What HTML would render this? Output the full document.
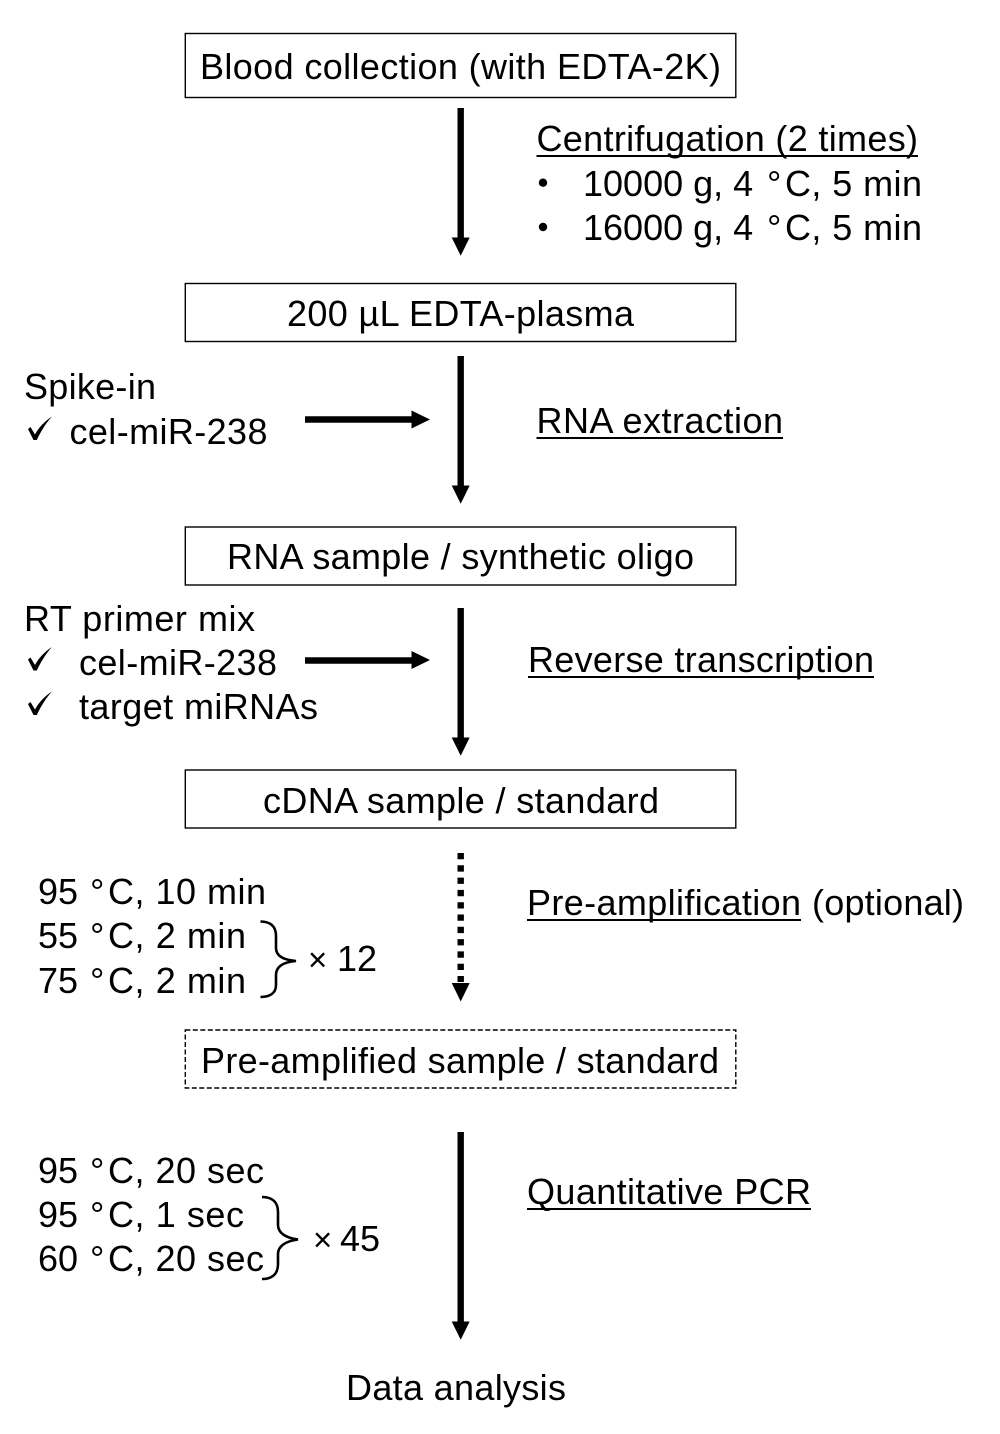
<!DOCTYPE html>
<html><head><meta charset="utf-8"><style>
html,body{margin:0;padding:0;background:#fff}
svg{display:block}
text{font-family:"Liberation Sans",Arial,sans-serif;font-size:36px;fill:#000}
</style></head><body>
<svg width="1000" height="1434" viewBox="0 0 1000 1434" xmlns="http://www.w3.org/2000/svg">
<g fill="#fff" stroke="#000" stroke-width="1.4">
<rect x="185.300" y="33.500" width="550.500" height="64"/>
<rect x="185.300" y="283.500" width="550.500" height="58"/>
<rect x="185.300" y="527" width="550.500" height="58"/>
<rect x="185.300" y="770" width="550.500" height="58"/>
<rect x="185.300" y="1030" width="550.500" height="58" stroke-dasharray="5 2.500"/>
</g>
<g stroke="#000" stroke-width="6.400" fill="none">
<path d="M460.700 108V239M460.700 356V487M460.700 608V739M460.700 1132V1323M305 419.500H413M305 660.500H413"/>
<path d="M460.700 853V982" stroke-dasharray="6.300 6"/>
</g>
<g fill="#000">
<path d="M451.700 237.500H469.700L460.700 255.700ZM451.700 485.500H469.700L460.700 503.700ZM451.700 737.500H469.700L460.700 755.700ZM451.700 983H469.700L460.700 1001.500ZM451.700 1321.500H469.700L460.700 1339.700Z"/>
<path d="M411.500 410.500V428.500L430 419.500ZM411.500 651V669L430 660Z"/>
<circle cx="543" cy="182.700" r="4.200"/><circle cx="543" cy="227" r="4.200"/>
<path d="M28 429L30.500 427L35 434.500C39 427 45 421 52 416.500C46 423 41 431 36.800 440L33.500 440Z"/>
<path d="M28 659.500L30.500 657.500L35 665C39 657.500 45 651.500 52 647C46 653.500 41 661.500 36.800 670.500L33.500 670.500Z"/>
<path d="M28 704L30.500 702L35 709.500C39 702 45 696 52 691.500C46 698 41 706 36.800 715L33.500 715Z"/>
</g>
<g fill="none" stroke="#000" stroke-width="2.600">
<path d="M260.500 921.500C270 921.500 276 926 276 936V948C276 956 284 960 296 961C284 962 276 966 276 975V985C276 993 270 997 260.500 997"/>
<path d="M262 1197C272 1197 278 1202 278 1212V1225C278 1233 286 1238 298 1239.500C286 1241 278 1246 278 1254V1264C278 1274 272 1279 262 1279"/>
</g>
<g stroke="#000" stroke-width="2">
<path d="M536.500 156H918M536.500 438H783M528 677H874M527 920H801M527 1209H811"/>
</g>
<text x="200" y="79" textLength="521">Blood collection (with EDTA-2K)</text>
<text x="536.500" y="151" textLength="381.500">Centrifugation (2 times)</text>
<text x="583" y="196">10000 g, 4</text><text x="767" y="196">°</text><text x="785" y="196" textLength="137">C, 5 min</text>
<text x="583" y="240">16000 g, 4</text><text x="767" y="240">°</text><text x="785" y="240" textLength="137">C, 5 min</text>
<text x="287" y="326" textLength="347">200 µL EDTA-plasma</text>
<text x="24" y="399" textLength="132">Spike-in</text>
<text x="69.500" y="444" textLength="198">cel-miR-238</text>
<text x="536.500" y="433" textLength="246.500">RNA extraction</text>
<text x="227" y="569" textLength="467">RNA sample / synthetic oligo</text>
<text x="24" y="631" textLength="231">RT primer mix</text>
<text x="79" y="675" textLength="198">cel-miR-238</text>
<text x="79" y="719" textLength="239">target miRNAs</text>
<text x="528" y="672" textLength="346">Reverse transcription</text>
<text x="263" y="813" textLength="396">cDNA sample / standard</text>
<text x="38" y="904">95</text><text x="90" y="904">°</text><text x="108" y="904" textLength="158">C, 10 min</text>
<text x="38" y="948">55</text><text x="90" y="948">°</text><text x="108" y="948" textLength="138">C, 2 min</text>
<text x="38" y="993">75</text><text x="90" y="993">°</text><text x="108" y="993" textLength="138">C, 2 min</text>
<text x="308" y="971" style="font-size:33px">×</text><text x="337" y="971">12</text>
<text x="527" y="915" textLength="274">Pre-amplification</text>
<text x="812" y="915" textLength="152">(optional)</text>
<text x="201" y="1073" textLength="518">Pre-amplified sample / standard</text>
<text x="38" y="1183">95</text><text x="90" y="1183">°</text><text x="108" y="1183" textLength="156">C, 20 sec</text>
<text x="38" y="1227">95</text><text x="90" y="1227">°</text><text x="108" y="1227" textLength="136">C, 1 sec</text>
<text x="38" y="1271">60</text><text x="90" y="1271">°</text><text x="108" y="1271" textLength="156">C, 20 sec</text>
<text x="313" y="1251" style="font-size:33px">×</text><text x="340" y="1251">45</text>
<text x="527" y="1204" textLength="284">Quantitative PCR</text>
<text x="346" y="1400" textLength="220">Data analysis</text>
</svg>
</body></html>
